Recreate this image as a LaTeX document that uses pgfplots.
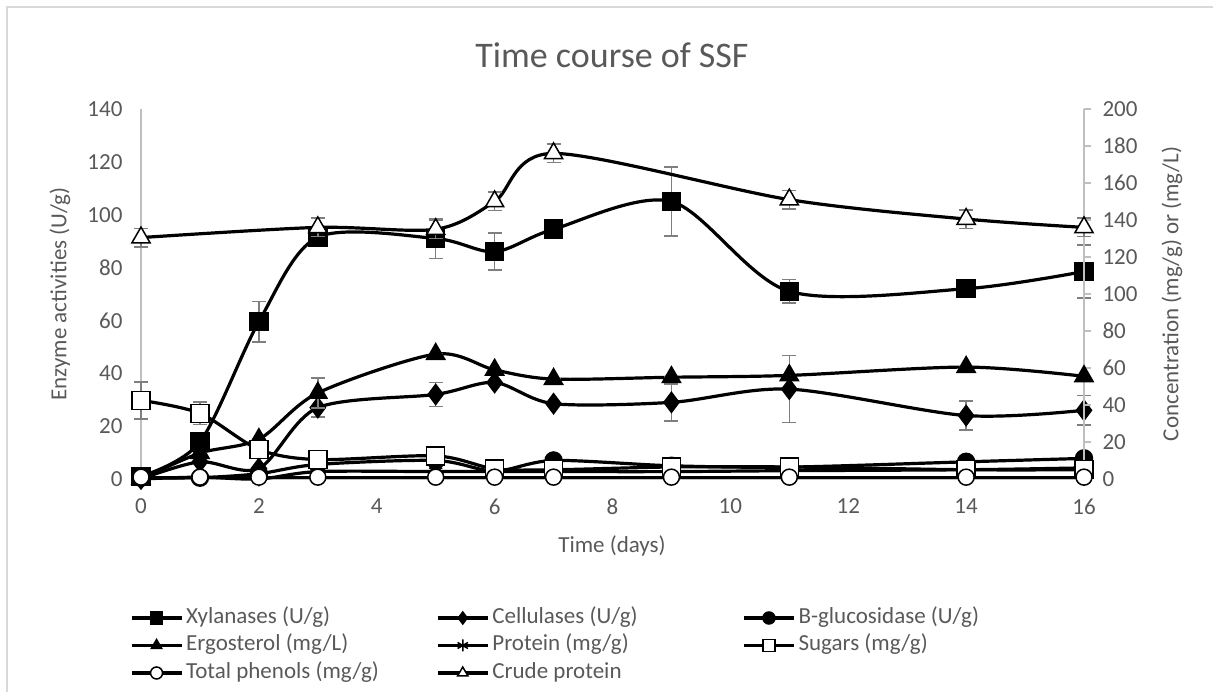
\documentclass[border=0pt]{standalone}
\usepackage{fontspec}
\setmainfont{Carlito}
\usepackage{pgfplots}
\pgfplotsset{compat=1.18}
\definecolor{txt}{HTML}{595959}
\definecolor{axg}{HTML}{BFBFBF}
\definecolor{errg}{HTML}{7F7F7F}
\definecolor{brd}{HTML}{D9D9D9}

\pgfplotsset{
  common/.style={scale only axis, width=943pt, height=370pt, xmin=0, xmax=16,
    at={(0pt,0pt)}, anchor=south west, clip=false,
    tick label style={font=\fontsize{23}{27}\selectfont, text=txt},
    /pgf/number format/assume math mode=true,
    axis line style={axg, line width=1.2pt},
    error bars/error bar style={errg, line width=1.5pt, solid},
    error bars/error mark options={rotate=90, errg, line width=1.5pt, mark size=7pt, solid},
  },
  ser/.style={black, line width=3.2pt, smooth, tension=0.5},
  xyl/.style={ser, mark=square*, mark size=9pt, mark options={solid, line width=1.5pt}},
  cel/.style={ser, mark=diamond*, mark size=10pt, mark options={solid, line width=1.5pt}},
  bgl/.style={ser, mark=*, mark size=8.5pt, mark options={solid, line width=1.5pt}},
  erg/.style={ser, mark=triangle*, mark size=10.5pt, mark options={solid, line width=1.5pt}},
  pro/.style={ser, mark=asterisk, mark size=7.5pt, mark options={solid, line width=1.5pt}},
  sug/.style={ser, mark=square*, mark size=9pt, mark options={solid, line width=1.5pt, fill=white}},
  phe/.style={ser, mark=*, mark size=8pt, mark options={solid, line width=1.5pt, fill=white}},
  cru/.style={ser, mark=triangle*, mark size=10.5pt, mark options={solid, line width=1.5pt, fill=white}},
}

\begin{document}
\begin{tikzpicture}
\path[use as bounding box] (-141pt,-213pt) rectangle (1072pt,479pt);
\draw[brd, line width=1.2pt] (-134pt,-230pt) -- (-134pt,472pt) -- (1090pt,472pt);

% ---------- left axis: enzymes ----------
\begin{axis}[common,
  ymin=0, ymax=140, ytick={0,20,...,140},
  xtick={0,2,...,16},
  axis x line*=bottom, axis y line*=left,
  major tick length=0pt,
  yticklabel style={xshift=-15pt},
  xticklabel style={yshift=-16pt},
]
\addplot[xyl, error bars/.cd, y dir=both, y explicit] table[x=x, y=y, y error=e] {
x y e
0 1 0
1 14 3
2 59.5 7.7
3 91.5 2
5 91 7.5
6 86 7
7 94.5 0
9 105 13
11 71 4.5
14 72 0
16 78.5 10
};
\addplot[cel, error bars/.cd, y dir=both, y explicit] table[x=x, y=y, y error=e] {
x y e
0 0 0
1 6.5 0
2 4 0
3 27 3.5
5 32 4.5
6 36.5 0
7 28.5 0
9 29 7
11 34 12.7
14 24 5.5
16 26 5.5
};
\addplot[bgl] coordinates {
(0,0.5) (1,0.5) (2,2) (3,5.5) (5,7) (6,3) (7,7) (9,5) (11,4.5) (14,6.5) (16,7.8)
};
\end{axis}

% ---------- right axis: concentrations ----------
\begin{axis}[common,
  ymin=0, ymax=200, ytick={0,20,...,200},
  hide x axis, axis y line*=right,
  ytick align=outside, major tick length=7pt,
  tick style={axg, line width=1.2pt},
  yticklabel style={xshift=8pt},
  legend columns=3,
  legend style={at={(-0.0117,-0.3385)}, anchor=north west, draw=none, fill=none,
    inner sep=0pt, outer sep=0pt,
    font=\fontsize{23}{27}\selectfont, text=txt,
    nodes={text height=17pt, text depth=6pt, inner xsep=3pt, inner ysep=2.25pt},
    /tikz/column sep=0pt},
  legend cell align=left,
  legend image code/.code={
    \draw[mark repeat=2, mark phase=2, #1, mark size=6pt]
      plot coordinates {(0pt,0pt) (25pt,0pt) (50pt,0pt)};},
]
\addlegendimage{xyl}
\addlegendentry{\makebox[247pt][l]{Xylanases (U/g)}}
\addlegendimage{cel}
\addlegendentry{\makebox[247pt][l]{Cellulases (U/g)}}
\addlegendimage{bgl}
\addlegendentry{B-glucosidase (U/g)}

\addplot[erg, error bars/.cd, y dir=both, y explicit] table[x=x, y=y, y error=e] {
x y e
0 0 0
1 14 0
2 21.5 0
3 46.5 8
5 67.5 0
6 59 0
7 54 0
9 55 0
11 56 0
14 60.5 0
16 55.5 0
};
\addlegendentry{\makebox[247pt][l]{Ergosterol (mg/L)}}
\addplot[pro] coordinates {
(0,0) (1,1) (2,0) (3,4) (5,4) (6,4) (7,4) (9,4) (11,4.5) (14,5) (16,6)
};
\addlegendentry{\makebox[247pt][l]{Protein (mg/g)}}
\addplot[sug, error bars/.cd, y dir=both, y explicit] table[x=x, y=y, y error=e] {
x y e
0 42.5 10
1 35.5 6
2 16 4
3 10.5 0
5 12.5 3
6 5.5 0
7 5 0
9 6.5 0
11 6.5 0
14 5 0
16 5 0
};
\addlegendentry{Sugars (mg/g)}
\addplot[phe] coordinates {
(0,1) (1,1) (2,1) (3,1) (5,1) (6,1) (7,1) (9,1) (11,1) (14,1) (16,1)
};
\addlegendentry{\makebox[247pt][l]{Total phenols (mg/g)}}
\addplot[cru, error bars/.cd, y dir=both, y explicit] table[x=x, y=y, y error=e] {
x y e
0 130.5 5
3 136 5
5 135 5
6 150 5
7 176 5
11 151 5
14 140.5 5
16 136 5
};
\addlegendentry{\makebox[247pt][l]{Crude protein}}
\end{axis}

\node[font=\fontsize{36}{40}\selectfont, text=txt] at (471pt,424pt) {Time course of SSF};
\node[rotate=90, font=\fontsize{23}{27}\selectfont, text=txt] at (-81pt,185pt) {Enzyme activities (U/g)};
\node[rotate=90, font=\fontsize{23}{27}\selectfont, text=txt] at (1031pt,185pt) {Concentration (mg/g) or (mg/L)};
\node[font=\fontsize{23}{27}\selectfont, text=txt] at (471pt,-67pt) {Time (days)};
\end{tikzpicture}
\end{document}
